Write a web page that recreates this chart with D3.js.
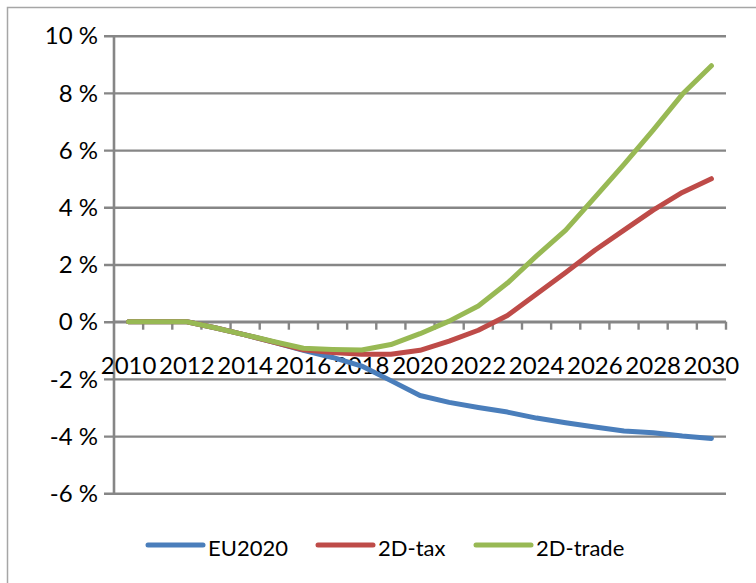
<!DOCTYPE html>
<html>
<head>
<meta charset="utf-8">
<script src="https://cdn.jsdelivr.net/npm/d3@7"></script>
<style>
  html, body { margin: 0; padding: 0; background: #fff; }
  svg { display: block; }
  text { font-family: Lato, "Open Sans", sans-serif; fill: #000; }
</style>
</head>
<body>
<svg id="chart" width="756" height="583"></svg>
<script>
const years = d3.range(2010, 2031);
const xTickLabels = [2010, 2012, 2014, 2016, 2018, 2020, 2022, 2024, 2026, 2028, 2030];
const yTicks = [-6, -4, -2, 0, 2, 4, 6, 8, 10];
const seriesNames = ["EU2020", "2D-tax", "2D-trade"];
const seriesColors = ["#4A7EBB", "#BE4B48", "#98B954"];
const eu2020 = [0, 0, 0, -0.22, -0.46, -0.72, -1.0, -1.25, -1.55, -2.06, -2.58, -2.82, -3.0, -3.16, -3.37, -3.53, -3.68, -3.82, -3.88, -4.0, -4.08];
const tax2d = [0, 0, 0, -0.22, -0.46, -0.72, -0.98, -1.08, -1.14, -1.14, -1.0, -0.68, -0.3, 0.22, 0.97, 1.72, 2.5, 3.2, 3.9, 4.52, 5.0];
const trade2d = [0, 0, 0, -0.22, -0.46, -0.7, -0.93, -0.97, -0.99, -0.8, -0.42, 0.02, 0.55, 1.35, 2.3, 3.2, 4.35, 5.5, 6.7, 7.95, 8.95];
const seriesValues = [eu2020, tax2d, trade2d];

const svg = d3.select("#chart");
const grey = "#868686";

// outer frame
svg.append("rect").attr("x", 7.5).attr("y", 7.5).attr("width", 780).attr("height", 620)
  .attr("fill", "none").attr("stroke", "#A6A6A6").attr("stroke-width", 1.5);

const plotL = 114, plotR = 726;
const x = d3.scaleBand().domain(years).range([plotL, plotR]).paddingInner(0).paddingOuter(0);
const y = d3.scaleLinear().domain([-6, 10]).range([493.3, 35.7]);
const cx = yr => x(yr) + x.bandwidth() / 2;

// gridlines + y ticks
const yAxis = d3.axisLeft(y).tickValues(yTicks).tickSize(-(plotR - plotL)).tickSizeOuter(0)
  .tickFormat(d => d + " %").tickPadding(16);
const gy = svg.append("g").attr("transform", `translate(${plotL},0)`).call(yAxis);
gy.select(".domain").remove();
gy.selectAll(".tick line").attr("stroke", grey).attr("stroke-width", 2.4).attr("x1", -10);
gy.selectAll(".tick text").attr("font-size", 24).attr("dy", "0.34em");
// y axis line
svg.append("line").attr("x1", plotL).attr("x2", plotL).attr("y1", y(10)).attr("y2", y(-6))
  .attr("stroke", grey).attr("stroke-width", 2.6);

// x axis at 0
const y0 = y(0);
svg.append("line").attr("x1", plotL).attr("x2", plotR).attr("y1", y0).attr("y2", y0)
  .attr("stroke", grey).attr("stroke-width", 2.4);
svg.append("g").selectAll("line").data(years).join("line")
  .attr("x1", d => x(d) + x.bandwidth()).attr("x2", d => x(d) + x.bandwidth())
  .attr("y1", y0).attr("y2", y0 + 8).attr("stroke", grey).attr("stroke-width", 2.4);
svg.append("g").selectAll("text").data(xTickLabels).join("text")
  .attr("x", d => cx(d)).attr("y", y0 + 52).attr("text-anchor", "middle")
  .attr("font-size", 24).text(d => d);

// lines
const line = d3.line().x((d, i) => cx(years[i])).y(d => y(d));
seriesValues.forEach((vals, k) => {
  svg.append("path").datum(vals).attr("d", line).attr("fill", "none")
    .attr("stroke", seriesColors[k]).attr("stroke-width", 5)
    .attr("stroke-linecap", "round").attr("stroke-linejoin", "round");
});

// legend
const legX = [148, 318, 476];
const legY = 545;
seriesNames.forEach((name, k) => {
  svg.append("line").attr("x1", legX[k]).attr("x2", legX[k] + 55).attr("y1", legY).attr("y2", legY)
    .attr("stroke", seriesColors[k]).attr("stroke-width", 5).attr("stroke-linecap", "round");
  svg.append("text").attr("x", legX[k] + 60).attr("y", legY + 10.5).attr("font-size", 22).text(name);
});
</script>
</body>
</html>
